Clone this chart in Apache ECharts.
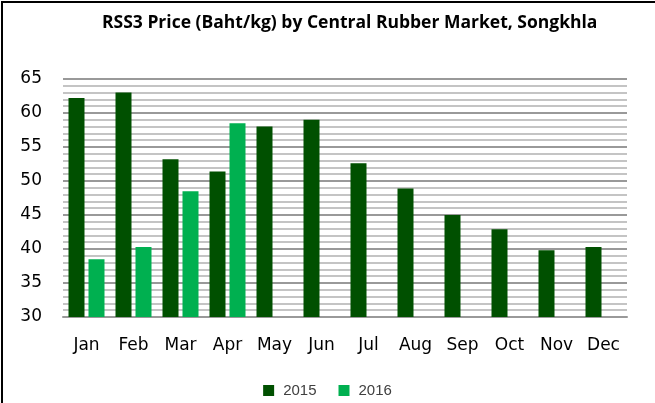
<!DOCTYPE html>
<head>
    <meta charset="utf-8">
    <title>RSS3 Price</title>
    <style>
        html, body { margin: 0; padding: 0; background: #fff; }
        #chart { width: 655px; height: 403px; }
    </style>
</head>
<body>
    <div id="chart"></div>

    <script src="https://cdn.jsdelivr.net/npm/echarts@6/dist/echarts.min.js"></script>
    <script type="text/javascript">

    // data
    var months = ['Jan','Feb','Mar','Apr','May','Jun','Jul','Aug','Sep','Oct','Nov','Dec'];
    var price2015 = [62.2, 63.0, 53.2, 51.4, 58.0, 59.0, 52.6, 48.9, 45.0, 42.9, 39.8, 40.3];
    var price2016 = [38.5, 40.3, 48.5, 58.5, null, null, null, null, null, null, null, null];

    var myChart = echarts.init(document.getElementById('chart'));

    myChart.setOption(
        option = {
            animation: false,
            title: {
                text: 'RSS3 Price (Baht/kg) by Central Rubber Market, Songkhla',
                left: 97,
                top: 9,
                textStyle: {
                    fontFamily: 'Open Sans',
                    fontWeight: 'bold',
                    fontSize: 17.5,
                    color: '#000'
                }
            },
            legend: {
                data: ['2015', '2016'],
                bottom: 0,
                left: 'center',
                itemWidth: 11,
                itemHeight: 11,
                itemGap: 22,
                icon: 'rect',
                textStyle: {
                    fontFamily: 'Liberation Sans',
                    fontSize: 15,
                    color: '#404040',
                    padding: [0, 0, 0, 4]
                }
            },
            grid: {
                left: 63,
                right: 28,
                top: 79,
                bottom: 86
            },
            graphic: [
                {
                    type: 'polyline',
                    shape: { points: [[2, 403], [2, 2], [655, 2]] },
                    style: { stroke: '#000', lineWidth: 2, fill: null }
                }
            ],
            xAxis: {
                type: 'category',
                data: months,
                axisLine: { show: true, lineStyle: { color: '#999', width: 2 } },
                axisTick: { show: false },
                axisLabel: {
                    margin: 20,
                    fontFamily: 'DejaVu Sans',
                    fontSize: 17,
                    color: '#000',
                    interval: 0
                }
            },
            yAxis: {
                type: 'value',
                min: 30,
                max: 65,
                interval: 5,
                axisLine: { show: false },
                axisTick: { show: false },
                axisLabel: {
                    margin: 21,
                    fontFamily: 'DejaVu Sans',
                    fontSize: 17,
                    color: '#000'
                },
                splitLine: { lineStyle: { color: '#999', width: 2 } },
                minorTick: { show: false, splitNumber: 5 },
                minorSplitLine: { show: true, lineStyle: { color: '#c4c4c4', width: 2 } }
            },
            series: [
                {
                    name: '2015',
                    type: 'bar',
                    data: price2015,
                    barWidth: 16,
                    barGap: '25%',
                    itemStyle: { color: '#005000' }
                },
                {
                    name: '2016',
                    type: 'bar',
                    data: price2016,
                    barWidth: 16,
                    itemStyle: { color: '#00b050' }
                }
            ]
        });

    </script>
</body>
